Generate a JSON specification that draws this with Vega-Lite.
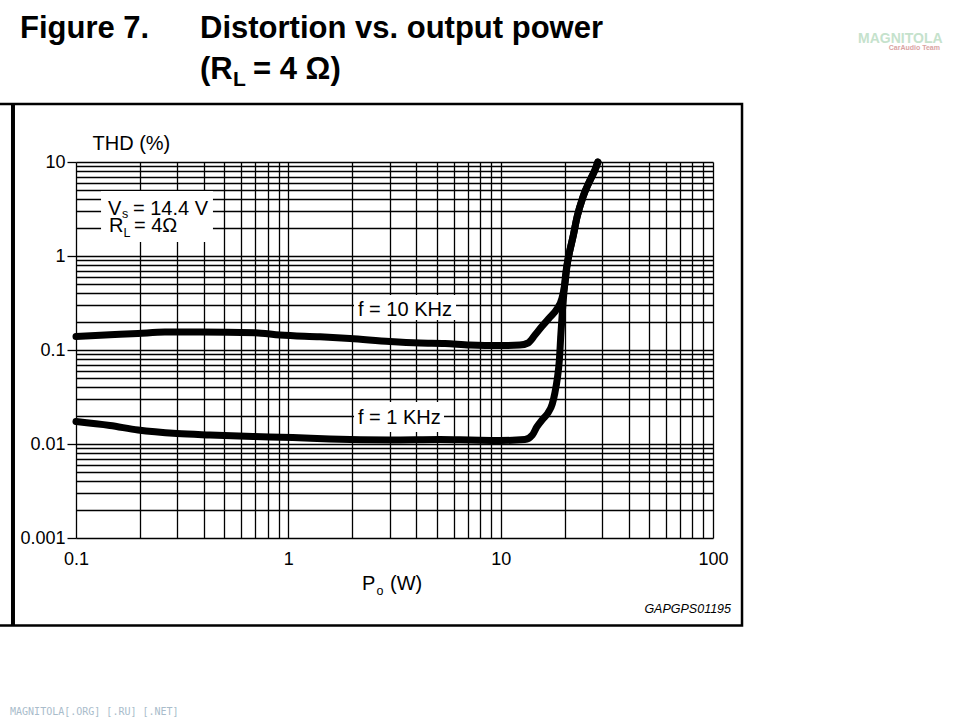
{
  "$schema": "https://vega.github.io/schema/vega-lite/v6.json",
  "width": 637,
  "height": 376,
  "autosize": "none",
  "padding": {"left": 76, "top": 162, "right": 247, "bottom": 182},
  "background": "white",
  "config": {"view": {"stroke": null}, "font": "Liberation Sans", "axis": {"domain": false}},
  "datasets": {
    "curves": [
      {"f": "10 kHz", "P": 0.1, "THD": 0.139},
      {"f": "10 kHz", "P": 0.1445, "THD": 0.145},
      {"f": "10 kHz", "P": 0.196, "THD": 0.150},
      {"f": "10 kHz", "P": 0.262, "THD": 0.155},
      {"f": "10 kHz", "P": 0.384, "THD": 0.155},
      {"f": "10 kHz", "P": 0.697, "THD": 0.153},
      {"f": "10 kHz", "P": 0.914, "THD": 0.144},
      {"f": "10 kHz", "P": 1.41, "THD": 0.138},
      {"f": "10 kHz", "P": 1.95, "THD": 0.1325},
      {"f": "10 kHz", "P": 3.01, "THD": 0.123},
      {"f": "10 kHz", "P": 4.17, "THD": 0.1187},
      {"f": "10 kHz", "P": 5.47, "THD": 0.1173},
      {"f": "10 kHz", "P": 7.17, "THD": 0.113},
      {"f": "10 kHz", "P": 9.93, "THD": 0.1116},
      {"f": "10 kHz", "P": 12.3, "THD": 0.113},
      {"f": "10 kHz", "P": 13.45, "THD": 0.1187},
      {"f": "10 kHz", "P": 14.5, "THD": 0.144},
      {"f": "10 kHz", "P": 15.7, "THD": 0.180},
      {"f": "10 kHz", "P": 17.1, "THD": 0.2245},
      {"f": "10 kHz", "P": 18.4, "THD": 0.273},
      {"f": "10 kHz", "P": 19.45, "THD": 0.357},
      {"f": "10 kHz", "P": 20.1, "THD": 0.516},
      {"f": "10 kHz", "P": 20.5, "THD": 0.764},
      {"f": "10 kHz", "P": 21.2, "THD": 1.158},
      {"f": "10 kHz", "P": 21.9, "THD": 1.59},
      {"f": "10 kHz", "P": 22.9, "THD": 2.60},
      {"f": "10 kHz", "P": 24.4, "THD": 4.24},
      {"f": "10 kHz", "P": 26.4, "THD": 6.43},
      {"f": "10 kHz", "P": 27.8, "THD": 8.22},
      {"f": "10 kHz", "P": 28.7, "THD": 10},
      {"f": "1 kHz", "P": 0.1, "THD": 0.01734},
      {"f": "1 kHz", "P": 0.1445, "THD": 0.01573},
      {"f": "1 kHz", "P": 0.196, "THD": 0.01409},
      {"f": "1 kHz", "P": 0.299, "THD": 0.01293},
      {"f": "1 kHz", "P": 0.428, "THD": 0.01247},
      {"f": "1 kHz", "P": 0.682, "THD": 0.01202},
      {"f": "1 kHz", "P": 1.05, "THD": 0.01173},
      {"f": "1 kHz", "P": 1.57, "THD": 0.0113},
      {"f": "1 kHz", "P": 3.01, "THD": 0.01103},
      {"f": "1 kHz", "P": 5.18, "THD": 0.01116},
      {"f": "1 kHz", "P": 7.17, "THD": 0.01103},
      {"f": "1 kHz", "P": 9.93, "THD": 0.0109},
      {"f": "1 kHz", "P": 13.0, "THD": 0.01116},
      {"f": "1 kHz", "P": 14.1, "THD": 0.01247},
      {"f": "1 kHz", "P": 14.8, "THD": 0.0152},
      {"f": "1 kHz", "P": 15.8, "THD": 0.01845},
      {"f": "1 kHz", "P": 16.7, "THD": 0.0214},
      {"f": "1 kHz", "P": 17.5, "THD": 0.0267},
      {"f": "1 kHz", "P": 18.0, "THD": 0.0349},
      {"f": "1 kHz", "P": 18.5, "THD": 0.0504},
      {"f": "1 kHz", "P": 18.9, "THD": 0.0783},
      {"f": "1 kHz", "P": 19.2, "THD": 0.1445},
      {"f": "1 kHz", "P": 19.55, "THD": 0.2665},
      {"f": "1 kHz", "P": 19.9, "THD": 0.435},
      {"f": "1 kHz", "P": 20.3, "THD": 0.676},
      {"f": "1 kHz", "P": 20.65, "THD": 0.863},
      {"f": "1 kHz", "P": 21.2, "THD": 1.158},
      {"f": "1 kHz", "P": 21.9, "THD": 1.59},
      {"f": "1 kHz", "P": 22.9, "THD": 2.60},
      {"f": "1 kHz", "P": 24.4, "THD": 4.24},
      {"f": "1 kHz", "P": 26.4, "THD": 6.43},
      {"f": "1 kHz", "P": 27.8, "THD": 8.22},
      {"f": "1 kHz", "P": 28.7, "THD": 10}
    ]
  },
  "layer": [
    {
      "data": {"values": [{}]},
      "mark": {"type": "rect", "filled": false, "stroke": "black", "strokeWidth": 2.5},
      "encoding": {
        "x": {"datum": 0.04, "type": "quantitative"},
        "x2": {"datum": 136.98},
        "y": {"datum": 41.4, "type": "quantitative"},
        "y2": {"datum": 0.0001172}
      }
    },
    {
      "data": {"values": [{}]},
      "mark": {"type": "rule", "stroke": "black", "strokeWidth": 4},
      "encoding": {
        "x": {"datum": 0.05049, "type": "quantitative"},
        "y": {"datum": 41.4, "type": "quantitative"},
        "y2": {"datum": 0.0001172}
      }
    },
    {
      "data": {"values": [{}]},
      "mark": {"type": "rect", "fill": "white"},
      "encoding": {
        "x": {"datum": 0.1312, "type": "quantitative"},
        "x2": {"datum": 0.4416},
        "y": {"datum": 4.91, "type": "quantitative"},
        "y2": {"datum": 1.41}
      }
    },
    {
      "data": {"values": [{}]},
      "mark": {"type": "rect", "fill": "white"},
      "encoding": {
        "x": {"datum": 2.039, "type": "quantitative"},
        "x2": {"datum": 6.163},
        "y": {"datum": 0.3846, "type": "quantitative"},
        "y2": {"datum": 0.2086}
      }
    },
    {
      "data": {"values": [{}]},
      "mark": {"type": "rect", "fill": "white"},
      "encoding": {
        "x": {"datum": 2.039, "type": "quantitative"},
        "x2": {"datum": 5.41},
        "y": {"datum": 0.02798, "type": "quantitative"},
        "y2": {"datum": 0.01342}
      }
    },
    {
      "data": {"name": "curves"},
      "mark": {"type": "line", "stroke": "black", "strokeWidth": 7, "strokeCap": "round", "strokeJoin": "round", "interpolate": "monotone"},
      "encoding": {
        "x": {
          "field": "P", "type": "quantitative",
          "scale": {"type": "log", "domain": [0.1, 100], "nice": false},
          "axis": {
            "values": [0.1,0.2,0.3,0.4,0.5,0.6,0.7,0.8,0.9,1,2,3,4,5,6,7,8,9,10,20,30,40,50,60,70,80,90,100],
            "title": null, "ticks": false, "format": "~g",
            "labelExpr": "indexof([0.1,1,10,100], datum.value) >= 0 ? datum.label : ''",
            "labelFont": "Liberation Sans", "labelFontSize": 18, "labelColor": "black", "labelPadding": 12,
            "labelOverlap": false, "labelFlush": false,
            "grid": true, "gridColor": "black", "gridWidth": 1.3, "gridOpacity": 1
          }
        },
        "y": {
          "field": "THD", "type": "quantitative",
          "scale": {"type": "log", "domain": [0.001, 10], "nice": false},
          "axis": {
            "values": [0.001,0.002,0.003,0.004,0.005,0.006,0.007,0.008,0.009,0.01,0.02,0.03,0.04,0.05,0.06,0.07,0.08,0.09,0.1,0.2,0.3,0.4,0.5,0.6,0.7,0.8,0.9,1,2,3,4,5,6,7,8,9,10],
            "title": "THD (%)", "titleAngle": 0, "titleAlign": "left", "titleBaseline": "alphabetic",
            "titleX": 16, "titleY": -13, "titleFont": "Liberation Sans", "titleFontSize": 20, "titleFontWeight": "normal", "titleColor": "black",
            "format": "~g",
            "labelExpr": "indexof([0.001,0.01,0.1,1,10], datum.value) >= 0 ? datum.label : ''",
            "labelFont": "Liberation Sans", "labelFontSize": 18, "labelColor": "black", "labelPadding": 2,
            "labelOverlap": false, "labelFlush": false,
            "ticks": true, "tickSize": 9, "tickColor": "black", "tickWidth": 1.3,
            "tickOpacity": {"condition": {"test": "indexof([0.001,0.01,0.1,1,10], datum.value) >= 0", "value": 1}, "value": 0},
            "grid": true, "gridColor": "black", "gridWidth": 1.3, "gridOpacity": 1
          }
        },
        "detail": {"field": "f"}
      }
    },
    {
      "data": {"values": [{}]},
      "mark": {"type": "text", "text": "Figure 7.", "font": "Liberation Sans", "fontSize": 31, "fontWeight": "bold", "align": "left", "baseline": "alphabetic", "color": "black"},
      "encoding": {"x": {"datum": 0.05448, "type": "quantitative"}, "y": {"datum": 208.5, "type": "quantitative"}}
    },
    {
      "data": {"values": [{}]},
      "mark": {"type": "text", "text": "Distortion vs. output power", "font": "Liberation Sans", "fontSize": 31, "fontWeight": "bold", "align": "left", "baseline": "alphabetic", "color": "black"},
      "encoding": {"x": {"datum": 0.3838, "type": "quantitative"}, "y": {"datum": 208.5, "type": "quantitative"}}
    },
    {
      "data": {"values": [{}]},
      "mark": {"type": "text", "text": "(R", "font": "Liberation Sans", "fontSize": 31, "fontWeight": "bold", "align": "left", "baseline": "alphabetic", "color": "black"},
      "encoding": {"x": {"datum": 0.3838, "type": "quantitative"}, "y": {"datum": 76.4, "type": "quantitative"}}
    },
    {
      "data": {"values": [{}]},
      "mark": {"type": "text", "text": "L", "font": "Liberation Sans", "fontSize": 21, "fontWeight": "bold", "align": "left", "baseline": "alphabetic", "color": "black", "dx": 33, "dy": 7},
      "encoding": {"x": {"datum": 0.3838, "type": "quantitative"}, "y": {"datum": 76.4, "type": "quantitative"}}
    },
    {
      "data": {"values": [{}]},
      "mark": {"type": "text", "text": "= 4 Ω)", "font": "Liberation Sans", "fontSize": 31, "fontWeight": "bold", "align": "left", "baseline": "alphabetic", "color": "black", "dx": 53},
      "encoding": {"x": {"datum": 0.3838, "type": "quantitative"}, "y": {"datum": 76.4, "type": "quantitative"}}
    },
    {
      "data": {"values": [{}]},
      "mark": {"type": "text", "text": "V", "font": "Liberation Sans", "fontSize": 20, "align": "left", "baseline": "alphabetic", "color": "black"},
      "encoding": {"x": {"datum": 0.1415, "type": "quantitative"}, "y": {"datum": 2.73, "type": "quantitative"}}
    },
    {
      "data": {"values": [{}]},
      "mark": {"type": "text", "text": "s", "font": "Liberation Sans", "fontSize": 12.5, "align": "left", "baseline": "alphabetic", "color": "black", "dx": 14, "dy": 3},
      "encoding": {"x": {"datum": 0.1415, "type": "quantitative"}, "y": {"datum": 2.73, "type": "quantitative"}}
    },
    {
      "data": {"values": [{}]},
      "mark": {"type": "text", "text": "= 14.4 V", "font": "Liberation Sans", "fontSize": 20, "align": "left", "baseline": "alphabetic", "color": "black", "dx": 25},
      "encoding": {"x": {"datum": 0.1415, "type": "quantitative"}, "y": {"datum": 2.73, "type": "quantitative"}}
    },
    {
      "data": {"values": [{}]},
      "mark": {"type": "text", "text": "R", "font": "Liberation Sans", "fontSize": 20, "align": "left", "baseline": "alphabetic", "color": "black", "dx": 1},
      "encoding": {"x": {"datum": 0.1415, "type": "quantitative"}, "y": {"datum": 1.8, "type": "quantitative"}}
    },
    {
      "data": {"values": [{}]},
      "mark": {"type": "text", "text": "L", "font": "Liberation Sans", "fontSize": 12.5, "align": "left", "baseline": "alphabetic", "color": "black", "dx": 15.5, "dy": 5},
      "encoding": {"x": {"datum": 0.1415, "type": "quantitative"}, "y": {"datum": 1.8, "type": "quantitative"}}
    },
    {
      "data": {"values": [{}]},
      "mark": {"type": "text", "text": "= 4Ω", "font": "Liberation Sans", "fontSize": 20, "align": "left", "baseline": "alphabetic", "color": "black", "dx": 26},
      "encoding": {"x": {"datum": 0.1415, "type": "quantitative"}, "y": {"datum": 1.8, "type": "quantitative"}}
    },
    {
      "data": {"values": [{}]},
      "mark": {"type": "text", "text": "f = 10 KHz", "font": "Liberation Sans", "fontSize": 20, "align": "left", "baseline": "alphabetic", "color": "black"},
      "encoding": {"x": {"datum": 2.128, "type": "quantitative"}, "y": {"datum": 0.230, "type": "quantitative"}}
    },
    {
      "data": {"values": [{}]},
      "mark": {"type": "text", "text": "f = 1 KHz", "font": "Liberation Sans", "fontSize": 20, "align": "left", "baseline": "alphabetic", "color": "black"},
      "encoding": {"x": {"datum": 2.128, "type": "quantitative"}, "y": {"datum": 0.01633, "type": "quantitative"}}
    },
    {
      "data": {"values": [{}]},
      "mark": {"type": "text", "text": "P", "font": "Liberation Sans", "fontSize": 20, "align": "left", "baseline": "alphabetic", "color": "black"},
      "encoding": {"x": {"datum": 2.223, "type": "quantitative"}, "y": {"datum": 0.00028, "type": "quantitative"}}
    },
    {
      "data": {"values": [{}]},
      "mark": {"type": "text", "text": "o", "font": "Liberation Sans", "fontSize": 12.5, "align": "left", "baseline": "alphabetic", "color": "black", "dx": 14.5, "dy": 5},
      "encoding": {"x": {"datum": 2.223, "type": "quantitative"}, "y": {"datum": 0.00028, "type": "quantitative"}}
    },
    {
      "data": {"values": [{}]},
      "mark": {"type": "text", "text": "(W)", "font": "Liberation Sans", "fontSize": 20, "align": "left", "baseline": "alphabetic", "color": "black", "dx": 28},
      "encoding": {"x": {"datum": 2.223, "type": "quantitative"}, "y": {"datum": 0.00028, "type": "quantitative"}}
    },
    {
      "data": {"values": [{}]},
      "mark": {"type": "text", "text": "GAPGPS01195", "font": "Liberation Sans", "fontSize": 12.5, "fontStyle": "italic", "align": "right", "baseline": "alphabetic", "color": "black"},
      "encoding": {"x": {"datum": 121.6, "type": "quantitative"}, "y": {"datum": 0.000159, "type": "quantitative"}}
    },
    {
      "data": {"values": [{}]},
      "mark": {"type": "text", "text": "MAGNITOLA[.ORG] [.RU] [.NET]", "font": "DejaVu Sans Mono", "fontSize": 10, "align": "left", "baseline": "alphabetic", "color": "#a9bccb"},
      "encoding": {"x": {"datum": 0.0489, "type": "quantitative"}, "y": {"datum": 0.0000131, "type": "quantitative"}}
    },
    {
      "data": {"values": [{}]},
      "mark": {"type": "text", "text": "MAGNITOLA", "font": "Liberation Sans", "fontSize": 14, "fontWeight": "bold", "align": "left", "baseline": "alphabetic", "color": "#c5e2cc"},
      "encoding": {"x": {"datum": 482, "type": "quantitative"}, "y": {"datum": 184.5, "type": "quantitative"}}
    },
    {
      "data": {"values": [{}]},
      "mark": {"type": "text", "text": "CarAudio Team", "font": "Liberation Sans", "fontSize": 7, "fontWeight": "bold", "align": "right", "baseline": "alphabetic", "color": "#d9a3a3"},
      "encoding": {"x": {"datum": 1172, "type": "quantitative"}, "y": {"datum": 155.4, "type": "quantitative"}}
    }
  ]
}
